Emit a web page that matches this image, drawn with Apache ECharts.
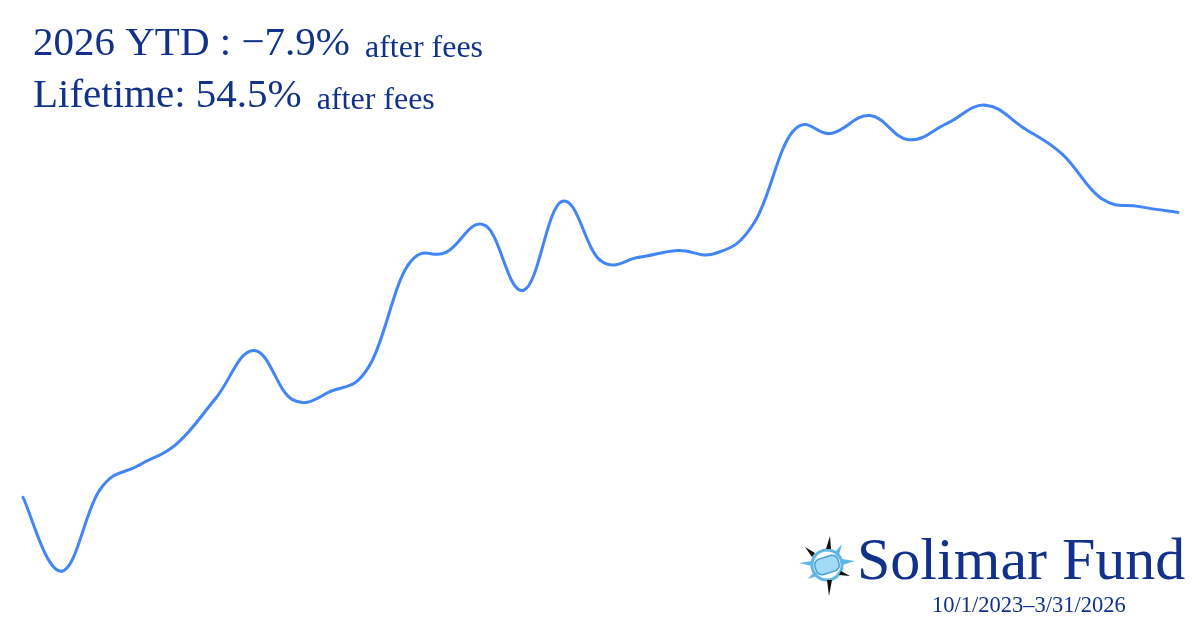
<!DOCTYPE html>
<html>
<head>
<meta charset="utf-8">
<title>Solimar Fund</title>
<script src="https://cdn.jsdelivr.net/npm/echarts@6/dist/echarts.min.js"></script>
<style>
	html, body { margin: 0; padding: 0; background: #fff; }
	#main { width: 1200px; height: 630px; }
</style>
</head>
<body>
<div id="main"></div>
<script>
// month ends, 10/1/2023 -> 3/31/2026
var months = ['2023-09','2023-10','2023-11','2023-12',
	'2024-01','2024-02','2024-03','2024-04','2024-05','2024-06','2024-07','2024-08','2024-09','2024-10','2024-11','2024-12',
	'2025-01','2025-02','2025-03','2025-04','2025-05','2025-06','2025-07','2025-08','2025-09','2025-10','2025-11','2025-12',
	'2026-01','2026-02','2026-03']
// cumulative return after fees, %
var cumulative = [0, -14.1, 1.5, 6.1, 10.3, 18.9, 28.1, 18.7, 20.3, 25.2, 44.4, 46.9, 52.0, 39.6, 56.6,
	45.3, 45.9, 47.2, 46.7, 52.6, 70.0, 69.6, 73.0, 68.4, 71.5, 75.0, 70.6, 65.6, 57.2, 55.6, 54.5]

var ytdText = '−7.9%'
var lifetimeText = '54.5%'
var periodText = '10/1/2023–3/31/2026'

var navy = '#12318a'
var sky = '#5db6e6'
var lineColor = '#4285f4'
var tension = 0.2 // cardinal spline, the picture overshoots a bit at turns

var chart = echarts.init(document.getElementById('main'))

// one bezier segment per month, control points from the neighbours
function renderSegment(params, api) {
	var i = params.dataIndex
	var last = cumulative.length - 1
	if (i >= last) return
	function pt(k) {
		k = Math.max(0, Math.min(last, k))
		return api.coord([k, cumulative[k]])
	}
	var p0 = pt(i - 1), p1 = pt(i), p2 = pt(i + 1), p3 = pt(i + 2)
	return {
		type: 'bezierCurve',
		shape: {
			x1: p1[0], y1: p1[1], x2: p2[0], y2: p2[1],
			cpx1: p1[0] + (p2[0] - p0[0]) * tension,
			cpy1: p1[1] + (p2[1] - p0[1]) * tension,
			cpx2: p2[0] - (p3[0] - p1[0]) * tension,
			cpy2: p2[1] - (p3[1] - p1[1]) * tension
		},
		style: { fill: null, stroke: lineColor, lineWidth: 3, lineCap: 'round' }
	}
}

var option = {
	backgroundColor: '#fff',
	animation: false,
	grid: { left: 23, right: 22, top: 79, bottom: 28 },
	xAxis: {
		type: 'category',
		data: months,
		boundaryGap: false,
		show: false
	},
	yAxis: {
		type: 'value',
		min: -20,
		max: 80,
		show: false
	},
	series: [{
		type: 'custom',
		data: cumulative.map(function (v, i) { return [i, v] }),
		renderItem: renderSegment
	}],
	graphic: [
		// headline text
		{
			type: 'text', left: 33, top: 24,
			style: {
				text: '{a|2026 YTD : ' + ytdText + '}{b|after fees}\n{a|Lifetime: ' + lifetimeText + '}{b|after fees}',
				rich: {
					a: { font: '41px "Liberation Serif"', fill: navy, lineHeight: 52, verticalAlign: 'bottom' },
					b: { font: '32px "Liberation Serif"', fill: navy, lineHeight: 52, verticalAlign: 'bottom', padding: [0, 0, 0, 15] }
				}
			}
		},
		// logo text
		{
			type: 'text', left: 857, top: 533,
			style: { text: 'Solimar Fund', font: '60px "Liberation Serif"', fill: navy }
		},
		{
			type: 'text', left: 932, top: 595,
			style: { text: periodText, font: '22.5px "Liberation Serif"', fill: navy }
		},
		// logo icon
		{
			type: 'group', x: 827, y: 565,
			children: [
				{ type: 'circle', shape: { cx: 0, cy: 0, r: 15 }, style: { fill: 'none', stroke: sky, lineWidth: 3 } },
				{ type: 'rect', rotation: 0.3, shape: { x: -12, y: -8, width: 24, height: 16, r: 6 }, style: { fill: '#a3daf5', stroke: '#3f9fd6', lineWidth: 1.5 } },
				{ type: 'polygon', shape: { points: [[-15, -4], [-28, -2], [-15, 1]] }, style: { fill: sky } },
				{ type: 'polygon', shape: { points: [[15, -6], [28, -4], [15, 0]] }, style: { fill: sky } },
				{ type: 'polygon', shape: { points: [[8, -13], [15, -21], [12, -10]] }, style: { fill: sky } },
				{ type: 'polygon', shape: { points: [[-10, 11], [-19, 14], [-13, 7]] }, style: { fill: sky } },
				{ type: 'polygon', shape: { points: [[-1, -16], [3, -29], [4, -16]] }, style: { fill: '#111' } },
				{ type: 'polygon', shape: { points: [[-12, -12], [-22, -18], [-15, -8]] }, style: { fill: '#111' } },
				{ type: 'polygon', shape: { points: [[12, 10], [23, 11], [14, 6]] }, style: { fill: '#111' } },
				{ type: 'polygon', shape: { points: [[0, 15], [2, 31], [5, 15]] }, style: { fill: '#111' } }
			]
		}
	]
}

chart.setOption(option)
window.addEventListener('resize', function () {
	chart.resize()
})
</script>
</body>
</html>
